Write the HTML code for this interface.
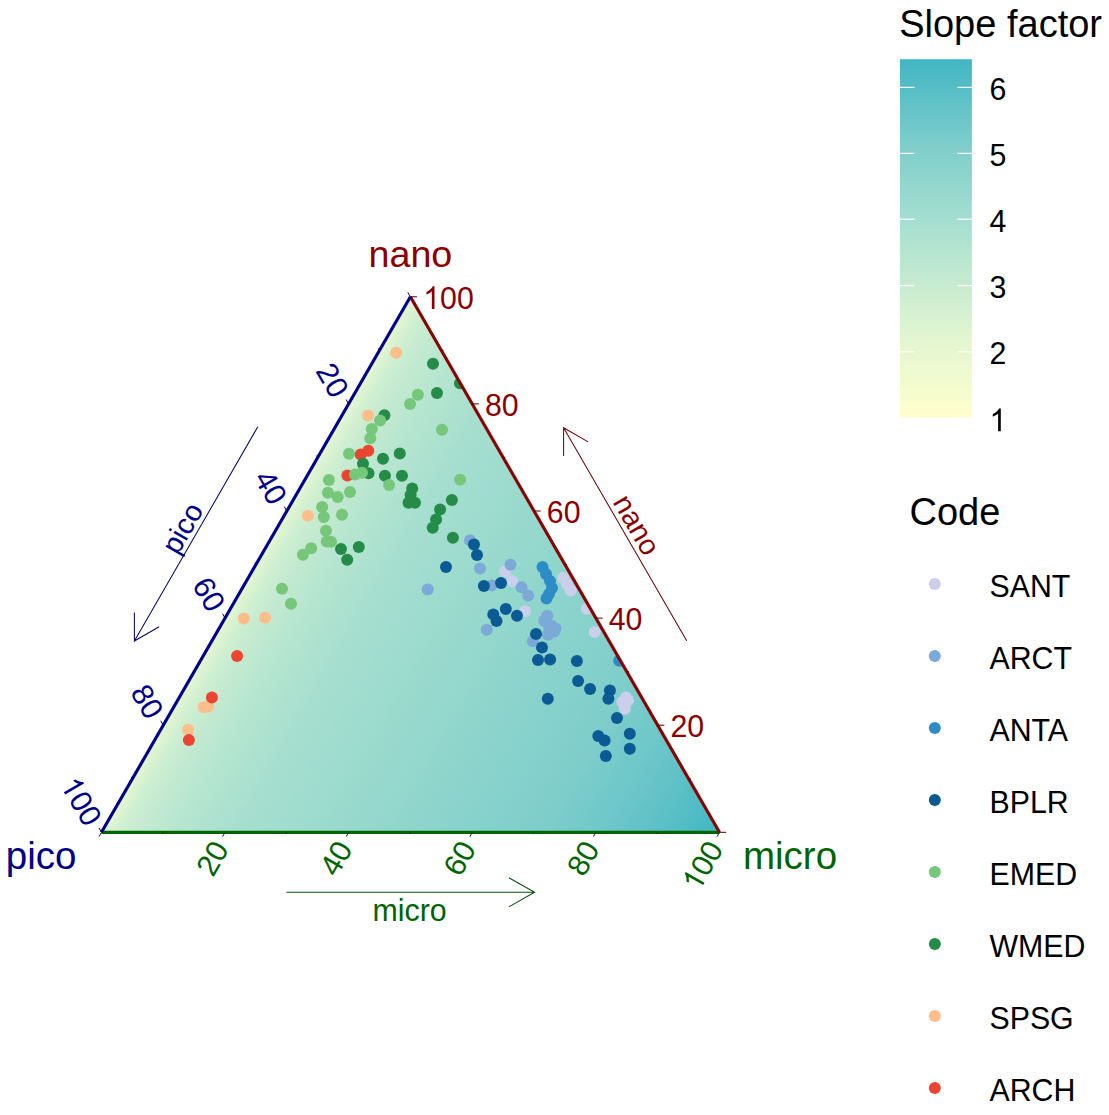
<!DOCTYPE html>
<html><head><meta charset="utf-8">
<style>
html,body{margin:0;padding:0;background:#fff;}
svg{display:block;}
text{font-family:"Liberation Sans",sans-serif;}
</style></head>
<body>
<svg width="1109" height="1115" viewBox="0 0 1109 1115">
<defs>
<linearGradient id="tg" gradientUnits="userSpaceOnUse" x1="255.95" y1="564.55" x2="719.50" y2="832.30">
<stop offset="0.0000" stop-color="#E9F8CF"/>
<stop offset="0.0040" stop-color="#E3F6D0"/>
<stop offset="0.0120" stop-color="#DCF3D1"/>
<stop offset="0.0300" stop-color="#CFEFD1"/>
<stop offset="0.0600" stop-color="#C4EAD0"/>
<stop offset="0.1160" stop-color="#B7E6D0"/>
<stop offset="0.2110" stop-color="#A7DFCF"/>
<stop offset="0.3400" stop-color="#9CDBCE"/>
<stop offset="0.5200" stop-color="#8DD4CC"/>
<stop offset="0.7000" stop-color="#7FCECB"/>
<stop offset="0.8100" stop-color="#6EC7C9"/>
<stop offset="0.9200" stop-color="#57BEC6"/>
<stop offset="1.0000" stop-color="#41B6C4"/>
</linearGradient>
<linearGradient id="cb" x1="0" y1="1" x2="0" y2="0">
<stop offset="0.000" stop-color="#FFFFCC"/>
<stop offset="0.250" stop-color="#DEF4D1"/>
<stop offset="0.500" stop-color="#ADE2D0"/>
<stop offset="0.750" stop-color="#80CECB"/>
<stop offset="1.000" stop-color="#41B6C4"/>
</linearGradient>
<clipPath id="tc"><polygon points="410.4,296.8 101.5,832.3 719.5,832.3"/></clipPath>

</defs>
<rect width="1109" height="1115" fill="#fff"/>
<polygon points="410.4,296.8 101.5,832.3 719.5,832.3" fill="url(#tg)"/>

<g clip-path="url(#tc)">
<circle cx="505.2" cy="571.6" r="6" fill="#CACFEC"/>
<circle cx="512.2" cy="581.0" r="6" fill="#CACFEC"/>
<circle cx="525.0" cy="611.3" r="6" fill="#CACFEC"/>
<circle cx="563.1" cy="577.9" r="6" fill="#CACFEC"/>
<circle cx="566.9" cy="584.2" r="6" fill="#CACFEC"/>
<circle cx="570.7" cy="590.5" r="6" fill="#CACFEC"/>
<circle cx="586.8" cy="608.7" r="6" fill="#CACFEC"/>
<circle cx="594.7" cy="632.1" r="6" fill="#CACFEC"/>
<circle cx="626.0" cy="697.4" r="6" fill="#CACFEC"/>
<circle cx="628.0" cy="700.5" r="6" fill="#CACFEC"/>
<circle cx="622.3" cy="701.9" r="6" fill="#CACFEC"/>
<circle cx="624.8" cy="708.8" r="6" fill="#CACFEC"/>
<circle cx="470.0" cy="540.2" r="6" fill="#7BAAD8"/>
<circle cx="480.1" cy="568.5" r="6" fill="#7BAAD8"/>
<circle cx="427.7" cy="589.6" r="6" fill="#7BAAD8"/>
<circle cx="491.8" cy="585.5" r="6" fill="#7BAAD8"/>
<circle cx="510.5" cy="564.7" r="6" fill="#7BAAD8"/>
<circle cx="521.6" cy="587.3" r="6" fill="#7BAAD8"/>
<circle cx="528.2" cy="595.5" r="6" fill="#7BAAD8"/>
<circle cx="486.8" cy="629.7" r="6" fill="#7BAAD8"/>
<circle cx="547.3" cy="615.7" r="6" fill="#7BAAD8"/>
<circle cx="551.8" cy="625.9" r="6" fill="#7BAAD8"/>
<circle cx="555.5" cy="628.4" r="6" fill="#7BAAD8"/>
<circle cx="548.0" cy="634.7" r="6" fill="#7BAAD8"/>
<circle cx="544.2" cy="620.8" r="6" fill="#7BAAD8"/>
<circle cx="554.3" cy="631.5" r="6" fill="#7BAAD8"/>
<circle cx="549.2" cy="627.1" r="6" fill="#7BAAD8"/>
<circle cx="532.8" cy="641.3" r="6" fill="#7BAAD8"/>
<circle cx="542.5" cy="567.0" r="6" fill="#2D8CC6"/>
<circle cx="546.0" cy="574.0" r="6" fill="#2D8CC6"/>
<circle cx="550.0" cy="581.0" r="6" fill="#2D8CC6"/>
<circle cx="552.0" cy="588.0" r="6" fill="#2D8CC6"/>
<circle cx="549.0" cy="594.0" r="6" fill="#2D8CC6"/>
<circle cx="546.5" cy="598.5" r="6" fill="#2D8CC6"/>
<circle cx="619.2" cy="660.8" r="6" fill="#2D8CC6"/>
<circle cx="396.2" cy="352.7" r="6" fill="#FDBE8A"/>
<circle cx="368.0" cy="415.6" r="6" fill="#FDBE8A"/>
<circle cx="307.9" cy="515.8" r="6" fill="#FDBE8A"/>
<circle cx="243.9" cy="618.5" r="6" fill="#FDBE8A"/>
<circle cx="265.1" cy="617.8" r="6" fill="#FDBE8A"/>
<circle cx="203.7" cy="707.3" r="6" fill="#FDBE8A"/>
<circle cx="208.1" cy="706.4" r="6" fill="#FDBE8A"/>
<circle cx="188.1" cy="729.7" r="6" fill="#FDBE8A"/>
<circle cx="368.3" cy="450.8" r="6" fill="#EA4530"/>
<circle cx="360.7" cy="454.6" r="6" fill="#EA4530"/>
<circle cx="347.4" cy="475.4" r="6" fill="#EA4530"/>
<circle cx="237.1" cy="655.9" r="6" fill="#EA4530"/>
<circle cx="211.9" cy="697.5" r="6" fill="#EA4530"/>
<circle cx="188.9" cy="740.1" r="6" fill="#EA4530"/>
<circle cx="433.0" cy="363.8" r="6" fill="#258B48"/>
<circle cx="460.0" cy="383.3" r="6" fill="#258B48"/>
<circle cx="437.0" cy="392.9" r="6" fill="#258B48"/>
<circle cx="384.4" cy="415.2" r="6" fill="#258B48"/>
<circle cx="383.0" cy="458.8" r="6" fill="#258B48"/>
<circle cx="399.8" cy="453.4" r="6" fill="#258B48"/>
<circle cx="363.0" cy="463.8" r="6" fill="#258B48"/>
<circle cx="368.5" cy="473.2" r="6" fill="#258B48"/>
<circle cx="384.9" cy="475.7" r="6" fill="#258B48"/>
<circle cx="402.0" cy="475.8" r="6" fill="#258B48"/>
<circle cx="412.2" cy="488.4" r="6" fill="#258B48"/>
<circle cx="410.6" cy="495.0" r="6" fill="#258B48"/>
<circle cx="408.5" cy="502.7" r="6" fill="#258B48"/>
<circle cx="415.0" cy="502.8" r="6" fill="#258B48"/>
<circle cx="341.0" cy="549.0" r="6" fill="#258B48"/>
<circle cx="358.8" cy="547.0" r="6" fill="#258B48"/>
<circle cx="347.2" cy="559.8" r="6" fill="#258B48"/>
<circle cx="451.9" cy="500.0" r="6" fill="#258B48"/>
<circle cx="440.1" cy="509.4" r="6" fill="#258B48"/>
<circle cx="436.1" cy="519.5" r="6" fill="#258B48"/>
<circle cx="432.7" cy="527.7" r="6" fill="#258B48"/>
<circle cx="452.9" cy="537.8" r="6" fill="#258B48"/>
<circle cx="417.9" cy="394.8" r="6" fill="#76C77A"/>
<circle cx="410.1" cy="403.9" r="6" fill="#76C77A"/>
<circle cx="380.1" cy="420.6" r="6" fill="#76C77A"/>
<circle cx="371.8" cy="429.1" r="6" fill="#76C77A"/>
<circle cx="370.3" cy="438.3" r="6" fill="#76C77A"/>
<circle cx="442.0" cy="429.7" r="6" fill="#76C77A"/>
<circle cx="349.0" cy="453.7" r="6" fill="#76C77A"/>
<circle cx="355.0" cy="474.4" r="6" fill="#76C77A"/>
<circle cx="362.0" cy="472.7" r="6" fill="#76C77A"/>
<circle cx="389.1" cy="484.9" r="6" fill="#76C77A"/>
<circle cx="328.9" cy="479.9" r="6" fill="#76C77A"/>
<circle cx="327.9" cy="492.7" r="6" fill="#76C77A"/>
<circle cx="337.7" cy="496.9" r="6" fill="#76C77A"/>
<circle cx="350.0" cy="491.9" r="6" fill="#76C77A"/>
<circle cx="322.2" cy="507.0" r="6" fill="#76C77A"/>
<circle cx="323.8" cy="517.1" r="6" fill="#76C77A"/>
<circle cx="342.0" cy="514.8" r="6" fill="#76C77A"/>
<circle cx="326.0" cy="530.8" r="6" fill="#76C77A"/>
<circle cx="326.8" cy="541.5" r="6" fill="#76C77A"/>
<circle cx="331.0" cy="541.7" r="6" fill="#76C77A"/>
<circle cx="311.2" cy="548.2" r="6" fill="#76C77A"/>
<circle cx="303.0" cy="554.7" r="6" fill="#76C77A"/>
<circle cx="282.0" cy="588.8" r="6" fill="#76C77A"/>
<circle cx="291.0" cy="603.7" r="6" fill="#76C77A"/>
<circle cx="460.1" cy="479.8" r="6" fill="#76C77A"/>
<circle cx="474.0" cy="544.6" r="6" fill="#0B5A94"/>
<circle cx="477.0" cy="555.0" r="6" fill="#0B5A94"/>
<circle cx="446.0" cy="566.9" r="6" fill="#0B5A94"/>
<circle cx="483.9" cy="585.9" r="6" fill="#0B5A94"/>
<circle cx="501.0" cy="583.0" r="6" fill="#0B5A94"/>
<circle cx="505.8" cy="608.9" r="6" fill="#0B5A94"/>
<circle cx="493.3" cy="614.6" r="6" fill="#0B5A94"/>
<circle cx="496.5" cy="620.9" r="6" fill="#0B5A94"/>
<circle cx="517.0" cy="615.8" r="6" fill="#0B5A94"/>
<circle cx="536.0" cy="634.1" r="6" fill="#0B5A94"/>
<circle cx="542.0" cy="647.5" r="6" fill="#0B5A94"/>
<circle cx="538.0" cy="660.0" r="6" fill="#0B5A94"/>
<circle cx="550.1" cy="659.5" r="6" fill="#0B5A94"/>
<circle cx="576.9" cy="661.0" r="6" fill="#0B5A94"/>
<circle cx="578.1" cy="681.0" r="6" fill="#0B5A94"/>
<circle cx="590.1" cy="689.0" r="6" fill="#0B5A94"/>
<circle cx="547.8" cy="698.7" r="6" fill="#0B5A94"/>
<circle cx="609.9" cy="690.5" r="6" fill="#0B5A94"/>
<circle cx="608.4" cy="698.7" r="6" fill="#0B5A94"/>
<circle cx="617.0" cy="718.0" r="6" fill="#0B5A94"/>
<circle cx="629.8" cy="733.7" r="6" fill="#0B5A94"/>
<circle cx="629.8" cy="748.8" r="6" fill="#0B5A94"/>
<circle cx="598.3" cy="735.9" r="6" fill="#0B5A94"/>
<circle cx="604.6" cy="740.4" r="6" fill="#0B5A94"/>
<circle cx="605.8" cy="755.9" r="6" fill="#0B5A94"/>
</g>
<g stroke-width="3.15" stroke-linecap="butt" fill="none">
<line x1="101.5" y1="832.3" x2="719.5" y2="832.3" stroke="#006400"/>
<line x1="719.5" y1="832.3" x2="410.4" y2="296.8" stroke="#8B0000"/>
<line x1="410.4" y1="296.8" x2="101.5" y2="832.3" stroke="#00008B"/>
</g>
<g stroke-width="1" fill="none">
<line x1="719.5" y1="832.3" x2="726.2" y2="832.3" stroke="#500000"/>
<line x1="410.4" y1="296.8" x2="407.8" y2="292.4" stroke="#000050"/>
<line x1="101.5" y1="832.3" x2="99.0" y2="836.7" stroke="#003000"/>
<line x1="688.6" y1="778.8" x2="690.7" y2="778.8" stroke="#500000"/>
<line x1="379.5" y1="350.4" x2="378.5" y2="348.5" stroke="#000050"/>
<line x1="163.3" y1="832.3" x2="162.2" y2="834.1" stroke="#003000"/>
<line x1="657.7" y1="725.2" x2="664.4" y2="725.2" stroke="#500000"/>
<line x1="348.6" y1="403.9" x2="346.1" y2="399.5" stroke="#000050"/>
<line x1="225.1" y1="832.3" x2="222.6" y2="836.7" stroke="#003000"/>
<line x1="626.8" y1="671.6" x2="628.9" y2="671.6" stroke="#500000"/>
<line x1="317.7" y1="457.5" x2="316.7" y2="455.6" stroke="#000050"/>
<line x1="286.9" y1="832.3" x2="285.8" y2="834.1" stroke="#003000"/>
<line x1="595.9" y1="618.1" x2="602.6" y2="618.1" stroke="#500000"/>
<line x1="286.8" y1="511.0" x2="284.3" y2="506.6" stroke="#000050"/>
<line x1="348.7" y1="832.3" x2="346.2" y2="836.7" stroke="#003000"/>
<line x1="565.0" y1="564.5" x2="567.1" y2="564.5" stroke="#500000"/>
<line x1="255.9" y1="564.5" x2="254.9" y2="562.7" stroke="#000050"/>
<line x1="410.5" y1="832.3" x2="409.4" y2="834.1" stroke="#003000"/>
<line x1="534.0" y1="511.0" x2="540.7" y2="511.0" stroke="#500000"/>
<line x1="225.1" y1="618.1" x2="222.5" y2="613.7" stroke="#000050"/>
<line x1="472.3" y1="832.3" x2="469.8" y2="836.7" stroke="#003000"/>
<line x1="503.1" y1="457.4" x2="505.2" y2="457.4" stroke="#500000"/>
<line x1="194.2" y1="671.6" x2="193.1" y2="669.8" stroke="#000050"/>
<line x1="534.1" y1="832.3" x2="533.0" y2="834.1" stroke="#003000"/>
<line x1="472.2" y1="403.9" x2="478.9" y2="403.9" stroke="#500000"/>
<line x1="163.3" y1="725.2" x2="160.7" y2="720.8" stroke="#000050"/>
<line x1="595.9" y1="832.3" x2="593.4" y2="836.7" stroke="#003000"/>
<line x1="441.3" y1="350.3" x2="443.4" y2="350.3" stroke="#500000"/>
<line x1="132.4" y1="778.8" x2="131.3" y2="776.9" stroke="#000050"/>
<line x1="657.7" y1="832.3" x2="656.7" y2="834.1" stroke="#003000"/>
<line x1="410.4" y1="296.8" x2="417.1" y2="296.8" stroke="#500000"/>
<line x1="101.5" y1="832.3" x2="99.0" y2="827.9" stroke="#000050"/>
<line x1="719.5" y1="832.3" x2="717.0" y2="836.7" stroke="#003000"/>
</g>
<g font-size="31.7">
<g transform="translate(670.5,737.4) scale(0.956,1)"><text x="0.00" y="0.00" font-size="31.7" text-anchor="start" fill="#8B0000">20</text></g>
<g transform="translate(348.6,403.9) rotate(60) scale(1.0,1)"><text x="-11.80" y="12.50" font-size="30.2" text-anchor="end" fill="#00008B">20</text></g>
<g transform="translate(225.1,832.3) rotate(-60) scale(1.0,1)"><text x="-12.10" y="12.30" font-size="30.2" text-anchor="end" fill="#006400">20</text></g>
<g transform="translate(608.7,630.3) scale(0.956,1)"><text x="0.00" y="0.00" font-size="31.7" text-anchor="start" fill="#8B0000">40</text></g>
<g transform="translate(286.8,511.0) rotate(60) scale(1.0,1)"><text x="-11.80" y="12.50" font-size="30.2" text-anchor="end" fill="#00008B">40</text></g>
<g transform="translate(348.7,832.3) rotate(-60) scale(1.0,1)"><text x="-12.10" y="12.30" font-size="30.2" text-anchor="end" fill="#006400">40</text></g>
<g transform="translate(546.8,523.2) scale(0.956,1)"><text x="0.00" y="0.00" font-size="31.7" text-anchor="start" fill="#8B0000">60</text></g>
<g transform="translate(225.1,618.1) rotate(60) scale(1.0,1)"><text x="-11.80" y="12.50" font-size="30.2" text-anchor="end" fill="#00008B">60</text></g>
<g transform="translate(472.3,832.3) rotate(-60) scale(1.0,1)"><text x="-12.10" y="12.30" font-size="30.2" text-anchor="end" fill="#006400">60</text></g>
<g transform="translate(485.0,416.1) scale(0.956,1)"><text x="0.00" y="0.00" font-size="31.7" text-anchor="start" fill="#8B0000">80</text></g>
<g transform="translate(163.3,725.2) rotate(60) scale(1.0,1)"><text x="-11.80" y="12.50" font-size="30.2" text-anchor="end" fill="#00008B">80</text></g>
<g transform="translate(595.9,832.3) rotate(-60) scale(1.0,1)"><text x="-12.10" y="12.30" font-size="30.2" text-anchor="end" fill="#006400">80</text></g>
<g transform="translate(423.2,309.0) scale(0.956,1)"><path transform="translate(0.00,0.00) scale(0.03170)" d="M372.6 0H284.7V-560.1Q252.9 -529.8 201.4 -499.5Q149.9 -469.2 108.9 -454.1V-539.1Q182.6 -573.7 237.8 -623Q293 -672.4 315.9 -718.8H372.6Z" fill="#8B0000"/><text x="17.63" y="0.00" font-size="31.7" fill="#8B0000">00</text></g>
<g transform="translate(101.5,832.3) rotate(60) scale(1.0,1)"><path transform="translate(-62.19,12.50) scale(0.03020)" d="M372.6 0H284.7V-560.1Q252.9 -529.8 201.4 -499.5Q149.9 -469.2 108.9 -454.1V-539.1Q182.6 -573.7 237.8 -623Q293 -672.4 315.9 -718.8H372.6Z" fill="#00008B"/><text x="-45.39" y="12.50" font-size="30.2" fill="#00008B">00</text></g>
<g transform="translate(719.5,832.3) rotate(-60) scale(1.0,1)"><path transform="translate(-62.49,12.30) scale(0.03020)" d="M372.6 0H284.7V-560.1Q252.9 -529.8 201.4 -499.5Q149.9 -469.2 108.9 -454.1V-539.1Q182.6 -573.7 237.8 -623Q293 -672.4 315.9 -718.8H372.6Z" fill="#006400"/><text x="-45.69" y="12.30" font-size="30.2" fill="#006400">00</text></g>
</g>
<g font-size="38.5">
<text x="410.4" y="267" fill="#8B0000" text-anchor="middle" font-size="37.7">nano</text>
<text x="5.8" y="868.8" fill="#00008B">pico</text>
<text x="743" y="868.7" fill="#006400">micro</text>
</g>
<g stroke-width="1.05" fill="none" stroke-linecap="butt">
<path d="M257.8 426.8 L134.4 641 M134.4 612.5 L134.4 641 L159.1 626.8" stroke="#08086A"/>
<path d="M686.7 640.8 L563.6 427.7 M563.6 456 L563.6 427.7 L588.1 441.9" stroke="#6A0808"/>
<path d="M286.4 892.3 L534.6 892.3 M508.9 877.7 L534.6 892.3 L508.9 906.9" stroke="#084E08"/>
</g>
<g font-size="31.7">
<text transform="translate(177.8,556.0) rotate(-60)" font-size="28.8" fill="#00008B">pico</text>
<text transform="translate(612.3,502.1) rotate(60)" font-size="28.8" fill="#8B0000">nano</text>
<text transform="translate(409.6,920.6) scale(0.956,1)" text-anchor="middle" fill="#006400">micro</text>
</g>
<text x="899.2" y="36.9" font-size="38" fill="#000">Slope factor</text>
<rect x="900" y="59.2" width="71.9" height="358.2" fill="url(#cb)"/>
<g stroke="#fff" stroke-width="1.2">
<line x1="900" y1="87.4" x2="914.4" y2="87.4"/><line x1="957.5" y1="87.4" x2="971.9" y2="87.4"/>
<line x1="900" y1="153.4" x2="914.4" y2="153.4"/><line x1="957.5" y1="153.4" x2="971.9" y2="153.4"/>
<line x1="900" y1="219.3" x2="914.4" y2="219.3"/><line x1="957.5" y1="219.3" x2="971.9" y2="219.3"/>
<line x1="900" y1="285.6" x2="914.4" y2="285.6"/><line x1="957.5" y1="285.6" x2="971.9" y2="285.6"/>
<line x1="900" y1="351.8" x2="914.4" y2="351.8"/><line x1="957.5" y1="351.8" x2="971.9" y2="351.8"/>
</g>
<g font-size="31.7" fill="#000">
<g transform="translate(989.5,99.7) scale(0.956,1)"><text x="0.00" y="0.00" font-size="31.7" text-anchor="start" fill="#000">6</text></g>
<g transform="translate(989.5,165.7) scale(0.956,1)"><text x="0.00" y="0.00" font-size="31.7" text-anchor="start" fill="#000">5</text></g>
<g transform="translate(989.5,231.6) scale(0.956,1)"><text x="0.00" y="0.00" font-size="31.7" text-anchor="start" fill="#000">4</text></g>
<g transform="translate(989.5,297.9) scale(0.956,1)"><text x="0.00" y="0.00" font-size="31.7" text-anchor="start" fill="#000">3</text></g>
<g transform="translate(989.5,364.1) scale(0.956,1)"><text x="0.00" y="0.00" font-size="31.7" text-anchor="start" fill="#000">2</text></g>
<g transform="translate(989.5,431.2) scale(0.956,1)"><path transform="translate(0.00,0.00) scale(0.03170)" d="M372.6 0H284.7V-560.1Q252.9 -529.8 201.4 -499.5Q149.9 -469.2 108.9 -454.1V-539.1Q182.6 -573.7 237.8 -623Q293 -672.4 315.9 -718.8H372.6Z" fill="#000"/></g>
</g>
<text x="909.5" y="525.3" font-size="38" fill="#000">Code</text>
<circle cx="934.8" cy="583.9" r="6" fill="#CACFEC"/>
<text transform="translate(989.5,597.1) scale(0.956,1)" font-size="31.7" fill="#000">SANT</text>
<circle cx="934.8" cy="655.9" r="6" fill="#7BAAD8"/>
<text transform="translate(989.5,669.1) scale(0.956,1)" font-size="31.7" fill="#000">ARCT</text>
<circle cx="934.8" cy="727.9" r="6" fill="#2D8CC6"/>
<text transform="translate(989.5,741.1) scale(0.956,1)" font-size="31.7" fill="#000">ANTA</text>
<circle cx="934.8" cy="800.0" r="6" fill="#0B5A94"/>
<text transform="translate(989.5,813.2) scale(0.956,1)" font-size="31.7" fill="#000">BPLR</text>
<circle cx="934.8" cy="872.0" r="6" fill="#76C77A"/>
<text transform="translate(989.5,885.2) scale(0.956,1)" font-size="31.7" fill="#000">EMED</text>
<circle cx="934.8" cy="944.0" r="6" fill="#258B48"/>
<text transform="translate(989.5,957.2) scale(0.956,1)" font-size="31.7" fill="#000">WMED</text>
<circle cx="934.8" cy="1016.0" r="6" fill="#FDBE8A"/>
<text transform="translate(989.5,1029.2) scale(0.956,1)" font-size="31.7" fill="#000">SPSG</text>
<circle cx="934.8" cy="1088.0" r="6" fill="#EA4530"/>
<text transform="translate(989.5,1101.2) scale(0.956,1)" font-size="31.7" fill="#000">ARCH</text>
</svg>
</body></html>
